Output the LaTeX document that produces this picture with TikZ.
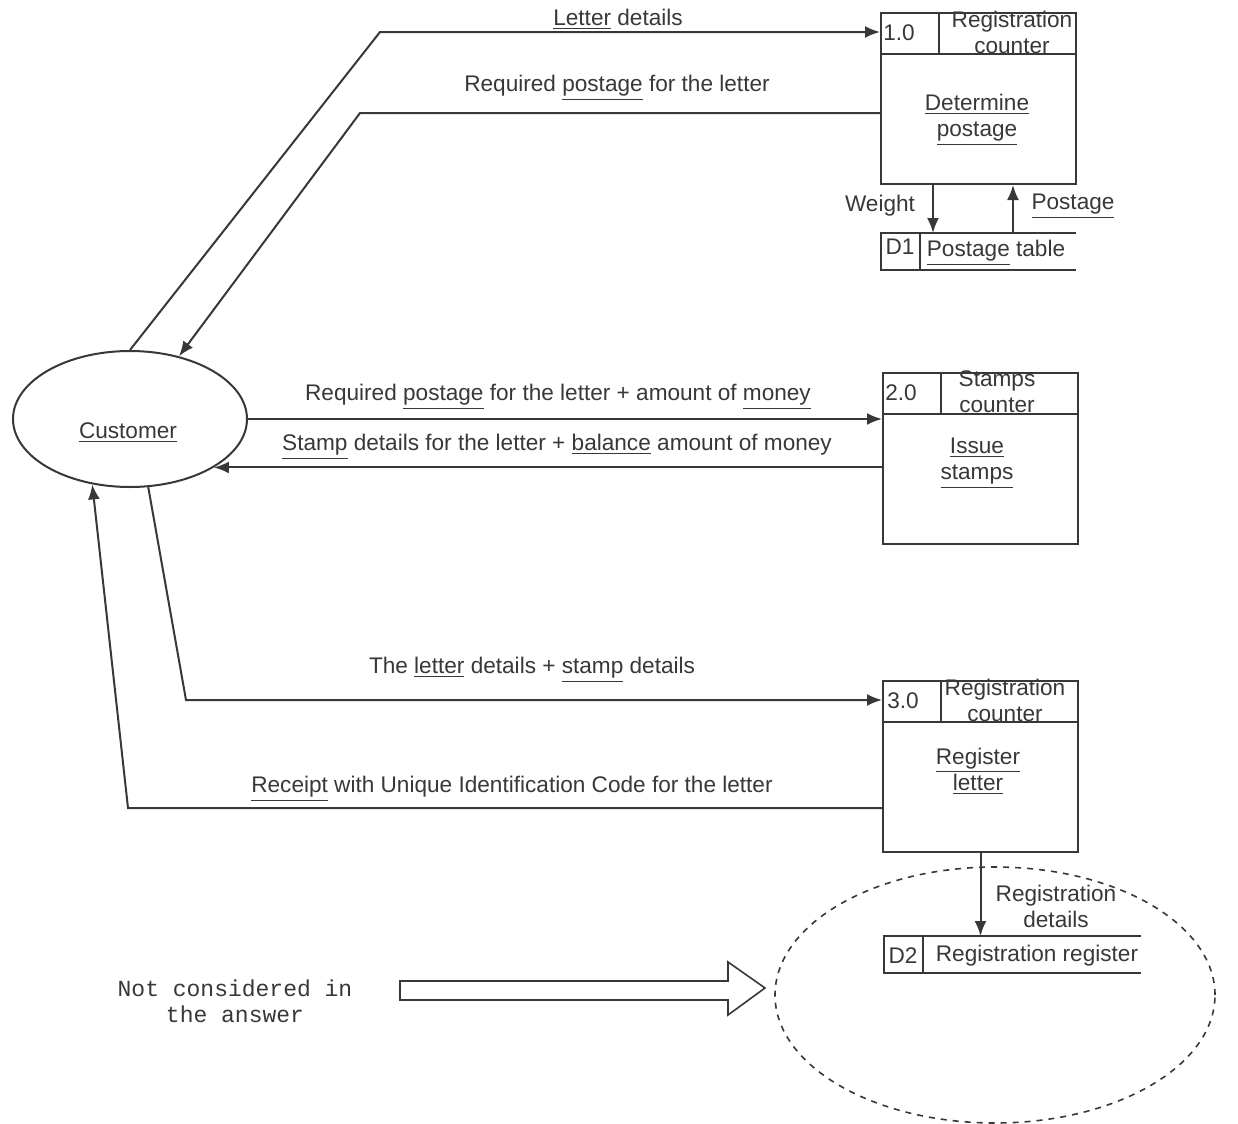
\documentclass[tikz,border=0pt]{standalone}
\usepackage{fontspec}
\setmainfont{Liberation Sans}
\newfontfamily\monofont{Liberation Mono}
\usetikzlibrary{arrows.meta,calc,shapes.geometric}
\definecolor{ink}{HTML}{383838}
\begin{document}
\begin{tikzpicture}[x=0.5pt,y=-0.5pt,
  every node/.style={text=ink, font=\fontsize{11.3}{13}\selectfont},
  line/.style={draw=ink, line width=1pt},
  flow/.style={line, -{Latex[length=7.5pt,width=6pt]}},
  procbox/.style={draw=ink, line width=1pt, minimum width=97.5pt, minimum height=85.5pt, inner sep=0pt, anchor=north west},
  storebox/.style={inner sep=0pt, anchor=north west, minimum height=18pt},
  lbl/.style={inner sep=0pt, align=center, yshift=-1.5pt},
]
\useasboundingbox (0,0) rectangle (1238,1124);
\fill[white] (0,0) rectangle (1238,1124);

% ---------- processes ----------
\node[procbox] (p1) at (880,12) {};
\node[procbox] (p2) at (882,372) {};
\node[procbox] (p3) at (882,680) {};
\foreach \p in {p1,p2,p3}{
  \draw[line] ($(\p.north west)+(0,42)$) -- ($(\p.north east)+(0,42)$);
  \draw[line] ($(\p.north west)+(59,0)$) -- ($(\p.north west)+(59,42)$);
}
\node[lbl] (n1) at (899,30) {1.0};
\node[lbl] (n2) at (901,390) {2.0};
\node[lbl] (n3) at (903,698) {3.0};
\node[lbl] (l1) at (1012,29) {Registration\\counter};
\node[lbl] (l2) at (997,389) {Stamps\\counter};
\node[lbl] (l3) at (1005,697) {Registration\\counter};
\node[lbl] (b1) at (977,117) {\underline{Determine}\\\underline{postage}};
\node[lbl] (b2) at (977,460) {\underline{Issue}\\\underline{stamps}};
\node[lbl] (b3) at (978,768) {\underline{Register}\\\underline{letter}};

% ---------- data stores ----------
\node[storebox, minimum width=97pt] (d1) at (881,233) {};
\draw[line] (d1.north east) -- (d1.north west) -- (d1.south west) -- (d1.south east);
\draw[line] ($(d1.north west)+(39,0)$) -- ($(d1.south west)+(39,0)$);
\node[lbl] (d1id) at (900,244) {D1};
\node[lbl] (d1n) at (996,250) {\underline{Postage} table};

\node[storebox, minimum width=128pt] (d2) at (884,936) {};
\draw[line] (d2.north east) -- (d2.north west) -- (d2.south west) -- (d2.south east);
\draw[line] ($(d2.north west)+(39,0)$) -- ($(d2.south west)+(39,0)$);
\node[lbl] (d2id) at (903,953) {D2};
\node[lbl] (d2n) at (1037,953) {Registration register};

% ---------- external entity ----------
\node[draw=ink, line width=1pt, ellipse, minimum width=117pt, minimum height=68pt, inner sep=0pt] (cust) at (130,419) {};
\node[lbl] (custl) at (128,430) {\underline{Customer}};

% ---------- flows ----------
\coordinate (k1) at (380,32);
\draw[flow] (cust.north) -- (k1) -- (k1 -| p1.west);
\node[lbl] (t1) at (618,16) {\underline{Letter} details};

\coordinate (k2) at (360,113);
\draw[flow] (k2 -| p1.west) -- (k2) -- (cust.52);
\node[lbl] (t2) at (617,85) {Required \underline{postage} for the letter};

\draw[flow] (cust.east) -- (cust.east -| p2.west);
\node[lbl] (t3) at (558,394) {Required \underline{postage} for the letter + amount of \underline{money}};

\draw[flow] (p2.west |- cust.-30) -- (cust.-30);
\node[lbl] (t4) at (557,444) {\underline{Stamp} details for the letter + \underline{balance} amount of money};

\coordinate (k5) at (186,700);
\draw[flow] (cust.-75) -- (k5) -- (k5 -| p3.west);
\node[lbl] (t5) at (532,667) {The \underline{letter} details + \underline{stamp} details};

\coordinate (k6) at (128,808);
\draw[flow] (k6 -| p3.west) -- (k6) -- (cust.-120);
\node[lbl] (t6) at (512,786) {\underline{Receipt} with Unique Identification Code for the letter};

\coordinate (kw) at (933,0);
\draw[flow] (kw |- p1.south) -- (kw |- d1.north);
\node[lbl] (tw) at (880,203) {Weight};
\coordinate (kp) at (1013,0);
\draw[flow] (kp |- d1.north) -- (kp |- p1.south);
\node[lbl] (tp) at (1073,203) {\underline{Postage}};

\draw[flow] (p3.south) -- (p3.south |- d2.north);
\node[lbl] (tr) at (1056,903) {Registration\\details};

% ---------- not considered ----------
\node[draw=ink, line width=0.8pt, dashed, ellipse, minimum width=220pt, minimum height=128pt, inner sep=0pt] (region) at (995,995) {};
\node[lbl, font=\monofont\fontsize{11.5}{13}\selectfont] (nc) at (235,998) {Not considered in\\the answer};
\draw[line, line width=0.8pt] (400,981) -- (728,981) -- (728,962) -- (765,988) -- (728,1015) -- (728,1000) -- (400,1000) -- cycle;
\end{tikzpicture}
\end{document}
